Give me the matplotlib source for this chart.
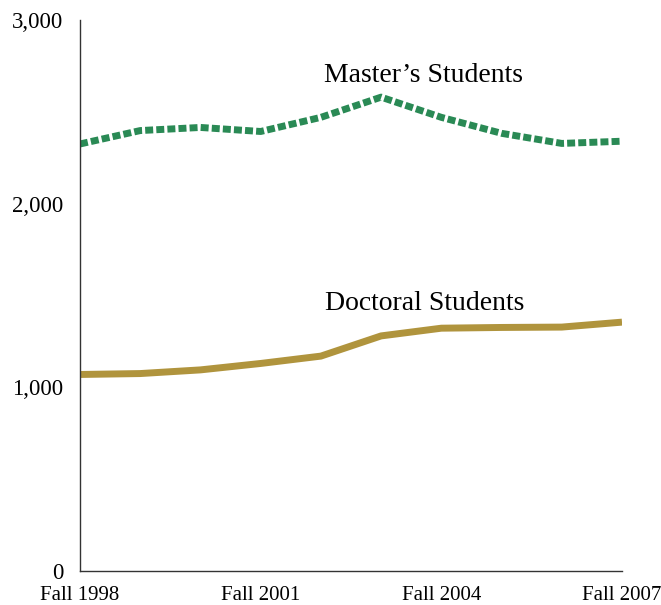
import matplotlib
matplotlib.use("Agg")
import matplotlib.pyplot as plt

years = ["Fall 1998", "Fall 1999", "Fall 2000", "Fall 2001", "Fall 2002",
         "Fall 2003", "Fall 2004", "Fall 2005", "Fall 2006", "Fall 2007"]
masters = [2325, 2398, 2415, 2393, 2470, 2580, 2470, 2383, 2328, 2340]
doctoral = [1070, 1075, 1095, 1130, 1170, 1280, 1322, 1326, 1328, 1355]
shown_years = ["Fall 1998", "Fall 2001", "Fall 2004", "Fall 2007"]
y_ticks = [0, 1000, 2000, 3000]

plt.rcParams['font.family'] = ['Liberation Serif', 'DejaVu Serif']

fig = plt.figure(figsize=(6.61, 6.05), dpi=100)
ax = fig.add_axes([80 / 661, 34 / 605, 542 / 661, 551 / 605])

x = list(range(len(years)))
ax.plot(x, masters, color="#2a8a55", lw=5, linestyle=(0, (1.15, 0.45)))
ax.plot(x, doctoral, color="#b0943d", lw=5, solid_capstyle="butt")

ax.text(5.7, 2630, "Master\u2019s Students", fontsize=20, ha="center", va="bottom")
ax.text(5.73, 1390, "Doctoral Students", fontsize=20, ha="center", va="bottom")

ax.set_xlim(0, len(years) - 1)
ax.set_ylim(0, 3000)
ax.set_xticks([years.index(y) for y in shown_years])
ax.set_xticklabels(shown_years, fontsize=15)
ax.set_yticks(y_ticks)
ax.set_yticklabels([f"{v:,}" for v in y_ticks], fontsize=16.5)
ax.tick_params(axis="y", length=0, pad=12)
ax.tick_params(axis="x", length=0, pad=11)

for s in ["top", "right"]:
    ax.spines[s].set_visible(False)
for s in ["left", "bottom"]:
    ax.spines[s].set_color("#333333")
    ax.spines[s].set_linewidth(1)

fig.savefig("out.png", dpi=100)
